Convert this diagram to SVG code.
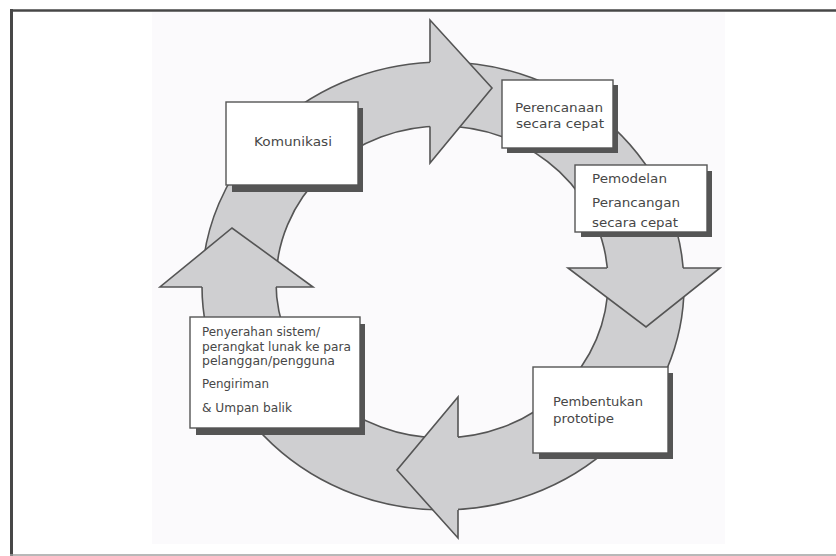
<svg xmlns="http://www.w3.org/2000/svg" width="836" height="556" viewBox="0 0 836 556">
<style>
.ring{fill:#cfcfd1;stroke:#555;stroke-width:1.6;fill-rule:evenodd}
.head{fill:#cfcfd1;stroke:#555;stroke-width:1.6;stroke-linejoin:miter}
.shadow{fill:#555}
.box{fill:#fff;stroke:#555;stroke-width:1.4}
.t{font-family:"DejaVu Sans","Liberation Sans",sans-serif;font-size:12.5px;fill:#474747}
</style>
<rect x="0" y="0" width="836" height="556" fill="#fff"/>
<rect x="152" y="12" width="573" height="532" fill="#fbfafc"/>
<g id="frame" fill="none">
<line x1="10" y1="10.5" x2="836" y2="10.5" stroke="#474747" stroke-width="2.5"/>
<line x1="11.5" y1="9" x2="11.5" y2="556" stroke="#474747" stroke-width="3"/>
<line x1="10" y1="555" x2="836" y2="555" stroke="#a0a0a0" stroke-width="1.5"/>
</g>
<g id="connectors">
<path class="ring" d="M202,286 A241,224 0 1 0 684,286 A241,224 0 1 0 202,286 Z M276,282 A166,156 0 1 0 608,282 A166,156 0 1 0 276,282 Z"/>
<path class="head" d="M430,62 L430,20 L492,88 L430,163 L430,126.5"/>
<path class="head" d="M683,268 L720,268 L646,327 L568,268 L607,268"/>
<path class="head" d="M458,510 L458,538 L397,470 L458,397 L458,437"/>
<path class="head" d="M202,287 L160,287 L232,228 L313,287 L276,287"/>
</g>
<g id="komunikasi">
<rect class="shadow" x="232" y="108" width="131" height="84"/>
<rect class="box" x="226" y="102" width="132" height="83"/>
<text class="t" x="254" y="146" textLength="78" lengthAdjust="spacingAndGlyphs">Komunikasi</text>
</g>
<g id="perencanaan">
<rect class="shadow" x="507" y="85" width="111" height="68"/>
<rect class="box" x="502" y="80" width="111" height="68"/>
<text class="t" x="515" y="112" textLength="88" lengthAdjust="spacingAndGlyphs">Perencanaan</text>
<text class="t" x="516" y="128" textLength="88" lengthAdjust="spacingAndGlyphs">secara cepat</text>
</g>
<g id="pemodelan">
<rect class="shadow" x="581" y="171" width="131" height="66"/>
<rect class="box" x="575" y="165" width="132" height="67"/>
<text class="t" x="592" y="183" textLength="75" lengthAdjust="spacingAndGlyphs">Pemodelan</text>
<text class="t" x="592" y="207" textLength="88" lengthAdjust="spacingAndGlyphs">Perancangan</text>
<text class="t" x="592" y="227" textLength="86" lengthAdjust="spacingAndGlyphs">secara cepat</text>
</g>
<g id="pembentukan">
<rect class="shadow" x="539" y="373" width="134" height="86"/>
<rect class="box" x="533" y="367" width="135" height="86"/>
<text class="t" x="553" y="406" textLength="90" lengthAdjust="spacingAndGlyphs">Pembentukan</text>
<text class="t" x="553" y="423" textLength="61" lengthAdjust="spacingAndGlyphs">prototipe</text>
</g>
<g id="penyerahan">
<rect class="shadow" x="196" y="324" width="169" height="111"/>
<rect class="box" x="190" y="317" width="170" height="111"/>
<text class="t" x="202" y="336" textLength="118" lengthAdjust="spacingAndGlyphs">Penyerahan sistem/</text>
<text class="t" x="202" y="351" textLength="149" lengthAdjust="spacingAndGlyphs">perangkat lunak ke para</text>
<text class="t" x="202" y="365" textLength="133" lengthAdjust="spacingAndGlyphs">pelanggan/pengguna</text>
<text class="t" x="202" y="388" textLength="67" lengthAdjust="spacingAndGlyphs">Pengiriman</text>
<text class="t" x="202" y="412" textLength="90" lengthAdjust="spacingAndGlyphs">&amp; Umpan balik</text>
</g>
</svg>
